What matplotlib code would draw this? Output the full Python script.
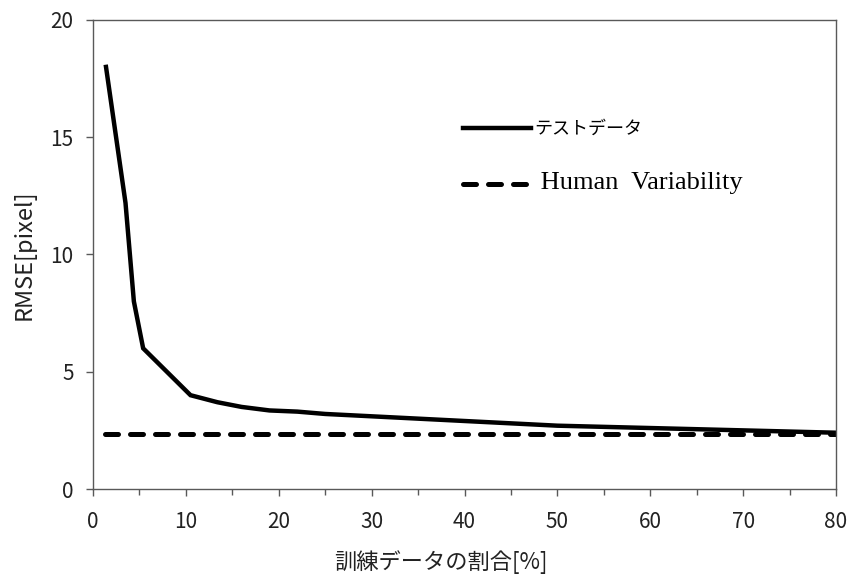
import matplotlib
matplotlib.use("Agg")
import matplotlib.pyplot as plt

train_ratio = [1.4, 3.5, 4.4, 5.4, 10.5, 13.4, 16, 19, 22, 25, 30, 35, 40, 45, 50, 55, 60, 65, 70, 75, 80]
test_rmse = [18.0, 12.2, 8.0, 6.0, 4.0, 3.7, 3.5, 3.35, 3.3, 3.2, 3.1, 3.0, 2.9, 2.8, 2.7, 2.65, 2.6, 2.55, 2.5, 2.45, 2.4]
human_x = [1.3, 80]
human_rmse = [2.35, 2.35]
xticks = [0, 10, 20, 30, 40, 50, 60, 70, 80]
yticks = [0, 5, 10, 15, 20]

jp = ['Noto Sans CJK JP', 'DejaVu Sans']
plt.rcParams['font.family'] = jp

fig = plt.figure(figsize=(8.49, 5.77), dpi=100)
ax = fig.add_axes([93 / 849, 1 - 489 / 577, 743 / 849, 469 / 577])

ax.plot(train_ratio, test_rmse, color='black', lw=3.2, solid_joinstyle='miter', label='テストデータ')
ax.plot(human_x, human_rmse, color='black', lw=3.6, dashes=(2.6, 2.4), dash_capstyle='round',
        label=' Human  Variability')

ax.set_xlim(0, 80)
ax.set_ylim(0, 20)
ax.set_xticks(xticks)
ax.set_xticks(range(0, 81, 5), minor=True)
ax.set_yticks(yticks)
ax.tick_params(axis='both', which='major', direction='out', length=5, width=1, color='#595959',
               labelsize=15, labelcolor='#222222')
ax.tick_params(axis='both', which='minor', direction='out', length=4, width=1, color='#595959')
ax.tick_params(axis='x', which='major', pad=11)
ax.tick_params(axis='y', which='major', pad=9)
for s in ax.spines.values():
    s.set_color('#595959')
    s.set_linewidth(1.0)

ax.set_xlabel('訓練データの割合[%]', fontsize=16, labelpad=10, color='#222222')
ax.xaxis.set_label_coords(0.468, -0.13)
ax.set_ylabel('RMSE[pixel]', fontsize=17, labelpad=4, color='#222222')
ax.yaxis.set_label_coords(-0.077, 0.5)

leg = ax.legend(loc='upper left', bbox_to_anchor=(0.49, 0.80), frameon=False,
                handlelength=4.9, handletextpad=0.25, labelspacing=2.5, borderaxespad=0)
texts = leg.get_texts()
texts[0].set_fontsize(13)
texts[1].set_fontfamily(['Liberation Serif'])
texts[1].set_fontsize(19)

fig.savefig('out.png', dpi=100)
